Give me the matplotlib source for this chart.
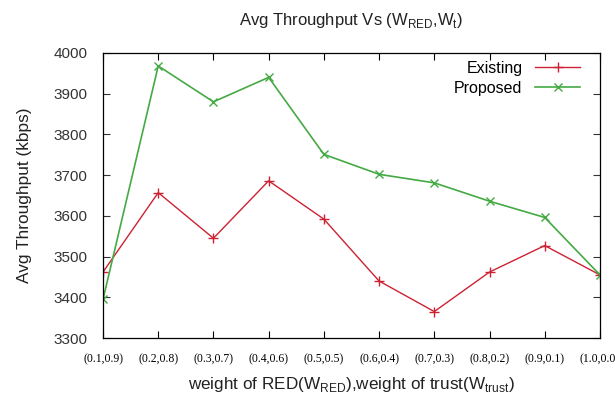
import matplotlib
matplotlib.use('Agg')
import matplotlib.pyplot as plt

plt.rcParams['font.family'] = ['Liberation Sans', 'DejaVu Sans']
plt.rcParams['mathtext.fontset'] = 'custom'
plt.rcParams['mathtext.rm'] = 'Liberation Sans'

# weights (W_RED, W_trust)
labels = ["(0.1,0.9)", "(0.2,0.8)", "(0.3,0.7)", "(0.4,0.6)", "(0.5,0.5)",
          "(0.6,0.4)", "(0.7,0.3)", "(0.8,0.2)", "(0.9,0.1)", "(1.0,0.0)"]
w_red = [0.1, 0.2, 0.3, 0.4, 0.5, 0.6, 0.7, 0.8, 0.9, 1.0]
existing = [3462, 3657, 3545, 3686, 3592, 3440, 3365, 3462, 3527, 3455]
proposed = [3395, 3968, 3880, 3940, 3751, 3702, 3681, 3636, 3596, 3455]

fig = plt.figure(figsize=(6.15, 4.01), dpi=100)
ax = fig.add_axes([0.1675, 0.157, 0.808, 0.711])

ax.plot(w_red, existing, color='#cc2233', lw=1.0, marker='+', ms=7, mew=1.0, label='Existing')
ax.plot(w_red, proposed, color='#44aa44', lw=1.2, marker='x', ms=6, mew=1.0, label='Proposed')

ax.set_xlim(0.1, 1.0)
ax.set_ylim(3300, 4000)
ax.set_xticks(w_red)
ax.set_xticklabels(labels, family='Liberation Serif', fontsize=8.5)
ax.set_yticks(range(3300, 4001, 100))
ax.tick_params(direction='in', top=True, right=True, length=5, width=0.8)
ax.tick_params(axis='y', labelsize=11, pad=11, colors='#333333')
ax.tick_params(axis='x', pad=11)
for s in ax.spines.values():
    s.set_linewidth(0.9)

ax.set_title(r'Avg Throughput Vs (W$_{\mathrm{RED}}$,W$_{\mathrm{t}}$)', fontsize=12, pad=20, color='#222222')
ax.set_xlabel(r'weight of RED(W$_{\mathrm{RED}}$),weight of trust(W$_{\mathrm{trust}}$)', fontsize=12.3, labelpad=7, color='#222222')
ax.set_ylabel('Avg Throughput (kbps)', fontsize=12.4, labelpad=16, color='#222222')

ax.legend(loc='upper right', bbox_to_anchor=(1 - 20 / 497, 1 - 8 / 285), frameon=False,
          markerfirst=False, fontsize=11.5, handlelength=2.8, borderaxespad=0, borderpad=0,
          labelspacing=0.3, handletextpad=0.8)

fig.savefig('out.png', dpi=100)
